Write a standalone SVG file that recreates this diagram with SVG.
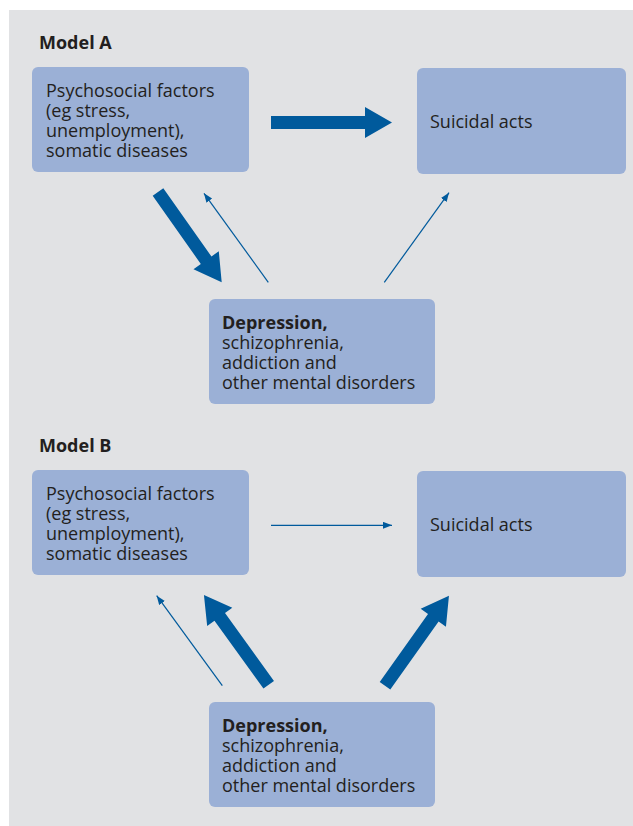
<svg xmlns="http://www.w3.org/2000/svg" width="633" height="826" viewBox="0 0 633 826">
<defs>
<style>
.panel{fill:#e1e2e4}
.box{fill:#9bb0d6}
.t{font-family:"Open Sans","Liberation Sans",sans-serif;font-size:18px;fill:#231f20}
.b{font-weight:bold}
.thin{stroke:#005a9c;stroke-width:1.2;fill:none;marker-end:url(#ah)}
.thick{fill:#005a9c}
</style>
<marker id="ah" markerUnits="userSpaceOnUse" markerWidth="10" markerHeight="8" refX="9" refY="3.5" orient="auto">
<path d="M0,0 L9,3.5 L0,7 Z" fill="#005a9c"/>
</marker>
</defs>
<rect class="panel" x="9" y="10" width="624" height="816"/>
<text class="t b" x="39" y="49">Model A</text>
<text class="t b" x="39" y="452">Model B</text>

<g id="a-psychosocial">
<rect class="box" x="32" y="67" width="217" height="105" rx="6"/>
<text class="t" x="46" y="97">Psychosocial factors</text>
<text class="t" x="46" y="117">(eg stress,</text>
<text class="t" x="46" y="137">unemployment),</text>
<text class="t" x="46" y="157">somatic diseases</text>
</g>
<g id="a-suicidal">
<rect class="box" x="417" y="68" width="209" height="106" rx="6"/>
<text class="t" x="430" y="128">Suicidal acts</text>
</g>
<g id="a-depression">
<rect class="box" x="209" y="299" width="226" height="105" rx="6"/>
<text class="t b" x="222" y="329">Depression,</text>
<text class="t" x="222" y="349">schizophrenia,</text>
<text class="t" x="222" y="369">addiction and</text>
<text class="t" x="222" y="389">other mental disorders</text>
</g>

<g id="b-psychosocial">
<rect class="box" x="32" y="470" width="217" height="105" rx="6"/>
<text class="t" x="46" y="500">Psychosocial factors</text>
<text class="t" x="46" y="520">(eg stress,</text>
<text class="t" x="46" y="540">unemployment),</text>
<text class="t" x="46" y="560">somatic diseases</text>
</g>
<g id="b-suicidal">
<rect class="box" x="417" y="471" width="209" height="106" rx="6"/>
<text class="t" x="430" y="531">Suicidal acts</text>
</g>
<g id="b-depression">
<rect class="box" x="209" y="702" width="226" height="105" rx="6"/>
<text class="t b" x="222" y="732">Depression,</text>
<text class="t" x="222" y="752">schizophrenia,</text>
<text class="t" x="222" y="772">addiction and</text>
<text class="t" x="222" y="792">other mental disorders</text>
</g>

<g id="connectors">
<path class="thick" transform="translate(271,122.5)" d="M0,-6.5 H94 V-15.5 L121,0 L94,15.5 V6.5 H0 Z"/>
<path class="thick" transform="translate(158,192) rotate(54.8)" d="M0,-6.5 H83.5 V-15.5 L110.5,0 L83.5,15.5 V6.5 H0 Z"/>
<line class="thin" x1="268.3" y1="282.3" x2="204" y2="193.3"/>
<line class="thin" x1="384.3" y1="282.3" x2="449" y2="192.7"/>

<line class="thin" x1="271" y1="525.3" x2="392" y2="525.3"/>
<line class="thin" x1="222.3" y1="685.7" x2="156.7" y2="595.7"/>
<path class="thick" transform="translate(268.7,684.8) rotate(-125.8)" d="M0,-6.5 H83.7 V-15.5 L110.7,0 L83.7,15.5 V6.5 H0 Z"/>
<path class="thick" transform="translate(385,685.7) rotate(-54.6)" d="M0,-6.5 H83.4 V-15.5 L110.4,0 L83.4,15.5 V6.5 H0 Z"/>
</g>
</svg>
